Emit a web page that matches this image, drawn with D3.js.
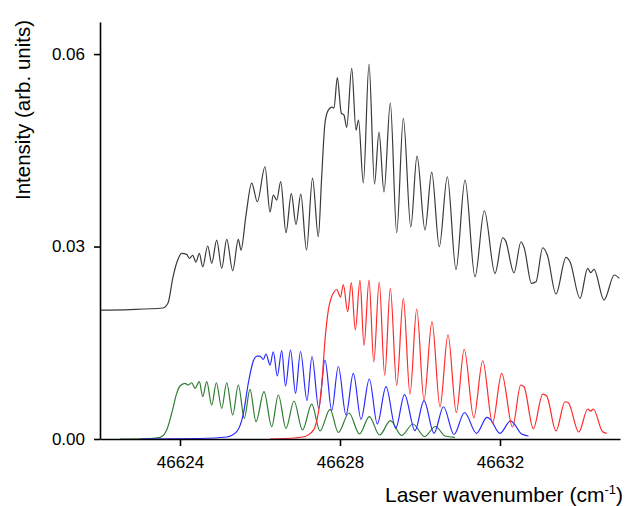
<!DOCTYPE html>
<html>
<head>
<meta charset="utf-8">
<script src="https://cdn.jsdelivr.net/npm/d3@7"></script>
<style>
  body { margin: 0; background: #fff; }
  svg { display: block; font-family: "Liberation Sans", Arial, sans-serif; }
</style>
</head>
<body>
<div id="chart"></div>
<script>
// [wavenumber (cm-1), intensity]
const measured = [
  [46622.000, 0.02010], [46622.750, 0.02018], [46623.575, 0.02042], [46623.700, 0.02119],
  [46623.825, 0.02525], [46623.925, 0.02758], [46624.043, 0.02894], [46624.168, 0.02878],
  [46624.233, 0.02816], [46624.318, 0.02863], [46624.400, 0.02758], [46624.483, 0.02894],
  [46624.568, 0.02685], [46624.693, 0.03008], [46624.793, 0.02738], [46624.918, 0.03101],
  [46625.043, 0.02660], [46625.168, 0.03112], [46625.318, 0.02623], [46625.458, 0.03112],
  [46625.525, 0.02945], [46625.650, 0.03491], [46625.793, 0.03990], [46625.933, 0.03698],
  [46626.125, 0.04244], [46626.250, 0.03538], [46626.333, 0.03802], [46626.418, 0.03725],
  [46626.518, 0.04013], [46626.650, 0.03215], [46626.783, 0.03826], [46626.900, 0.03343],
  [46627.020, 0.03818], [46627.163, 0.02945], [46627.313, 0.04067], [46627.458, 0.03153],
  [46627.538, 0.04036], [46627.625, 0.04925], [46627.708, 0.05127], [46627.800, 0.05174],
  [46627.850, 0.05158], [46627.933, 0.05634], [46628.033, 0.05080], [46628.100, 0.05049],
  [46628.168, 0.04858], [46628.293, 0.05777], [46628.400, 0.04815], [46628.463, 0.04971],
  [46628.583, 0.03990], [46628.725, 0.05844], [46628.863, 0.03974], [46628.975, 0.04784],
  [46629.100, 0.03849], [46629.258, 0.05236], [46629.418, 0.03215], [46629.583, 0.04998],
  [46629.770, 0.03304], [46629.925, 0.04410], [46630.125, 0.03257], [46630.293, 0.04161],
  [46630.483, 0.02997], [46630.683, 0.04088], [46630.900, 0.02645], [46631.125, 0.04036],
  [46631.375, 0.02529], [46631.608, 0.03558], [46631.875, 0.02582], [46632.068, 0.03137],
  [46632.138, 0.03093], [46632.350, 0.02592], [46632.525, 0.03075], [46632.608, 0.02972],
  [46632.788, 0.02426], [46632.900, 0.02451], [46633.068, 0.02981], [46633.183, 0.02867],
  [46633.400, 0.02260], [46633.650, 0.02832], [46633.750, 0.02763], [46634.000, 0.02193],
  [46634.193, 0.02660], [46634.268, 0.02592], [46634.350, 0.02645], [46634.600, 0.02166],
  [46634.858, 0.02556], [46634.983, 0.02504]
];

const greenSim = [
  [46622.500, 0], [46623.250, 0.00008], [46623.500, 0.00026], [46623.668, 0.00140],
  [46623.793, 0.00401], [46623.918, 0.00712], [46624.000, 0.00826], [46624.125, 0.00868],
  [46624.208, 0.00842], [46624.293, 0.00877], [46624.375, 0.00790], [46624.483, 0.00893],
  [46624.568, 0.00659], [46624.668, 0.00893], [46624.793, 0.00530], [46624.908, 0.00877],
  [46625.043, 0.00478], [46625.168, 0.00877], [46625.318, 0.00374], [46625.458, 0.00842],
  [46625.608, 0.00323], [46625.750, 0.00775], [46625.900, 0.00270], [46626.100, 0.00737],
  [46626.293, 0.00192], [46626.458, 0.00686], [46626.650, 0.00167], [46626.850, 0.00592],
  [46627.063, 0.00140], [46627.293, 0.00545], [46627.500, 0.00125], [46627.750, 0.00463],
  [46627.958, 0.00101], [46628.225, 0.00405], [46628.488, 0.00078], [46628.733, 0.00348],
  [46628.988, 0.00062], [46629.263, 0.00285], [46629.538, 0.00055], [46629.825, 0.00234],
  [46630.113, 0.00039], [46630.388, 0.00195], [46630.625, 0.00047], [46630.875, 0.00026]
];

const blueSim = [
  [46623.000, 0], [46624.500, 0.00008], [46625.168, 0.00031], [46625.418, 0.00114],
  [46625.583, 0.00390], [46625.708, 0.00873], [46625.833, 0.01216], [46625.925, 0.01293],
  [46626.000, 0.01293], [46626.083, 0.01239], [46626.150, 0.01325], [46626.250, 0.01153],
  [46626.333, 0.01360], [46626.433, 0.00982], [46626.543, 0.01379], [46626.638, 0.00826],
  [46626.763, 0.01387], [46626.888, 0.00712], [46627.013, 0.01364], [46627.175, 0.00600],
  [46627.300, 0.01286], [46627.468, 0.00478], [46627.625, 0.01231], [46627.793, 0.00444],
  [46627.958, 0.01130], [46628.150, 0.00374], [46628.333, 0.01024], [46628.525, 0.00307],
  [46628.733, 0.00935], [46628.933, 0.00234], [46629.150, 0.00815], [46629.393, 0.00167],
  [46629.613, 0.00693], [46629.875, 0.00129], [46630.100, 0.00597], [46630.350, 0.00089],
  [46630.588, 0.00503], [46630.850, 0.00070], [46631.113, 0.00413], [46631.413, 0.00089],
  [46631.675, 0.00338], [46631.750, 0.00312], [46632.000, 0.00089], [46632.263, 0.00281],
  [46632.338, 0.00249], [46632.538, 0.00078], [46632.713, 0.00047]
];

const redSim = [
  [46626.250, 0], [46626.875, 0.00016], [46627.125, 0.00039], [46627.275, 0.00094],
  [46627.375, 0.00187], [46627.463, 0.00421], [46627.543, 0.00842], [46627.625, 0.01543],
  [46627.708, 0.02010], [46627.788, 0.02213], [46627.850, 0.02291], [46627.918, 0.02330],
  [46628.013, 0.02213], [46628.083, 0.02408], [46628.193, 0.01984], [46628.283, 0.02439],
  [46628.383, 0.01699], [46628.500, 0.02473], [46628.600, 0.01457], [46628.725, 0.02478],
  [46628.845, 0.01200], [46628.980, 0.02447], [46629.118, 0.00990], [46629.258, 0.02348],
  [46629.418, 0.00834], [46629.583, 0.02193], [46629.750, 0.00701], [46629.918, 0.02026],
  [46630.100, 0.00608], [46630.300, 0.01831], [46630.500, 0.00499], [46630.700, 0.01625],
  [46630.908, 0.00413], [46631.105, 0.01399], [46631.345, 0.00330], [46631.568, 0.01220],
  [46631.813, 0.00249], [46632.043, 0.01024], [46632.313, 0.00187], [46632.518, 0.00842],
  [46632.600, 0.00815], [46632.833, 0.00161], [46633.068, 0.00701], [46633.168, 0.00670],
  [46633.400, 0.00125], [46633.625, 0.00581], [46633.708, 0.00566], [46633.970, 0.00109],
  [46634.193, 0.00468], [46634.268, 0.00436], [46634.333, 0.00468], [46634.563, 0.00114],
  [46634.668, 0.00089]
];

const xTicks = [46624, 46628, 46632];
const yTicks = [0, 0.03, 0.06];

const svgWidth = 634;
const svgHeight = 506;
const margin = { top: 22, right: 14, bottom: 67, left: 100 };
const width = svgWidth - margin.left - margin.right;
const height = svgHeight - margin.top - margin.bottom;

const svg = d3.select('#chart').append('svg')
  .attr('width', svgWidth)
  .attr('height', svgHeight);

const g = svg.append('g')
  .attr('transform', `translate(${margin.left},${margin.top})`);

const xScale = d3.scaleLinear().domain([46622, 46635]).range([0, width]);
const yScale = d3.scaleLinear().domain([0, 0.065]).range([height, 0]);

const line = d3.line()
  .x(d => xScale(d[0]))
  .y(d => yScale(d[1]))
  .curve(d3.curveMonotoneX);

const series = [
  { data: greenSim, color: '#2f7d32' },
  { data: blueSim, color: '#2b2bff' },
  { data: redSim, color: '#ff2b2b' },
  { data: measured, color: '#3a3a3a' }
];

series.forEach(s => {
  g.append('path')
    .datum(s.data)
    .attr('d', line)
    .attr('fill', 'none')
    .attr('stroke', s.color)
    .attr('stroke-width', 1.2);
});

const xAxis = g.append('g')
  .attr('transform', `translate(0,${height})`)
  .call(d3.axisBottom(xScale).tickValues(xTicks).tickFormat(d3.format('d'))
    .tickSize(7).tickSizeOuter(0).tickPadding(10));

const yAxis = g.append('g')
  .call(d3.axisLeft(yScale).tickValues(yTicks).tickFormat(d3.format('.2f'))
    .tickSize(6).tickSizeOuter(0).tickPadding(9));

[xAxis, yAxis].forEach(ax => {
  ax.selectAll('path, line').attr('stroke', '#000').attr('stroke-width', 1.6);
  ax.selectAll('text')
    .style('font-size', '17px')
    .style('font-family', '"Liberation Sans", Arial, sans-serif')
    .attr('fill', '#000');
});

const xLabel = svg.append('text')
  .attr('x', 385)
  .attr('y', 502)
  .style('font-size', '21px')
  .attr('fill', '#000');
xLabel.append('tspan').text('Laser wavenumber (cm');
xLabel.append('tspan').attr('dy', -8).style('font-size', '13px').text('-1');
xLabel.append('tspan').attr('dy', 8).text(')');

svg.append('text')
  .attr('transform', 'translate(30,110) rotate(-90)')
  .attr('text-anchor', 'middle')
  .style('font-size', '20.5px')
  .attr('fill', '#000')
  .text('Intensity (arb. units)');
</script>
</body>
</html>
